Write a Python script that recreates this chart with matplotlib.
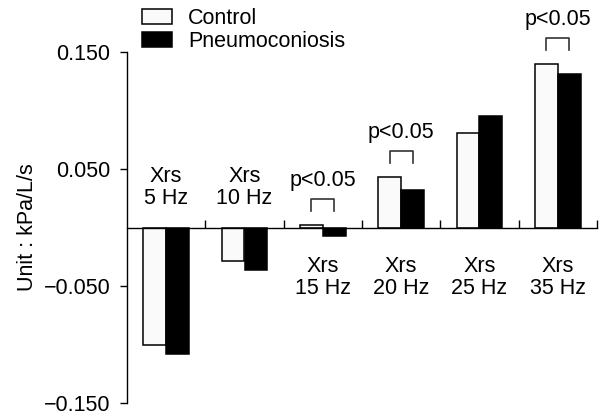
import numpy as np
import matplotlib
matplotlib.use("Agg")
import matplotlib.pyplot as plt

plt.rcParams['font.family'] = ['Liberation Sans', 'DejaVu Sans']

# datos
grupos = ["Xrs\n5 Hz", "Xrs\n10 Hz", "Xrs\n15 Hz", "Xrs\n20 Hz", "Xrs\n25 Hz", "Xrs\n35 Hz"]
control = [-0.100, -0.029, 0.0025, 0.043, 0.081, 0.140]
neumo = [-0.108, -0.0366, -0.0073, 0.032, 0.0953, 0.131]
signif = [False, False, True, True, False, True]
etiqueta_p = "p<0.05"

fs = 15.5
x = np.arange(len(grupos))
w = 0.293

fig = plt.figure(figsize=(6.01, 4.16), dpi=100)
ax = fig.add_axes([127/601, 1-403/416, (597-127)/601, (403-52)/416])

b1 = ax.bar(x - w/2, control, w, color="#fafafa", edgecolor="black", linewidth=1.1, label="Control")
b2 = ax.bar(x + w/2, neumo, w, color="black", edgecolor="black", linewidth=1.1, label="Pneumoconiosis")

ax.set_xlim(-0.5, len(grupos) - 0.5)
ax.set_ylim(-0.15, 0.15)
ax.set_yticks([-0.15, -0.05, 0.05, 0.15])
ax.set_yticklabels(["\u22120.150", "\u22120.050", "0.050", "0.150"], fontsize=fs)
ax.tick_params(axis="y", direction="out", length=5, width=1, pad=7)

ax.spines["top"].set_visible(False)
ax.spines["right"].set_visible(False)
ax.spines["bottom"].set_position(("data", 0))
ax.spines["left"].set_linewidth(1)
ax.spines["bottom"].set_linewidth(1)
ax.set_xticks(list(x + 0.5))
ax.set_xticklabels([])
ax.tick_params(axis="x", direction="in", length=6, width=1)

ax.set_ylabel("Unit : kPa/L/s", fontsize=fs, labelpad=4)

# etiquetas de grupo
for i, g in enumerate(grupos):
    if min(control[i], neumo[i]) < -0.02:
        ax.text(x[i], 0.034, g, ha="center", va="center", fontsize=fs, linespacing=1.05)
    else:
        ax.text(x[i], -0.0427, g, ha="center", va="center", fontsize=fs, linespacing=1.05)

# corchetes de significancia
for i in range(len(grupos)):
    if signif[i]:
        base = max(control[i], neumo[i], 0) + 0.012
        tope = base + 0.010
        ax.plot([x[i] - w/2, x[i] - w/2, x[i] + w/2, x[i] + w/2], [base, tope, tope, base],
                color="#333333", linewidth=1.2, clip_on=False)
        ax.text(x[i], tope + 0.016, etiqueta_p, ha="center", va="center", fontsize=fs, clip_on=False)

ax.legend(loc="upper left", bbox_to_anchor=(142/601, 1-8/416), bbox_transform=fig.transFigure,
          frameon=False, fontsize=fs, handlelength=1.4, handleheight=0.72,
          handletextpad=0.75, labelspacing=0.1, borderpad=0, borderaxespad=0)

plt.savefig("out.png", dpi=100)
